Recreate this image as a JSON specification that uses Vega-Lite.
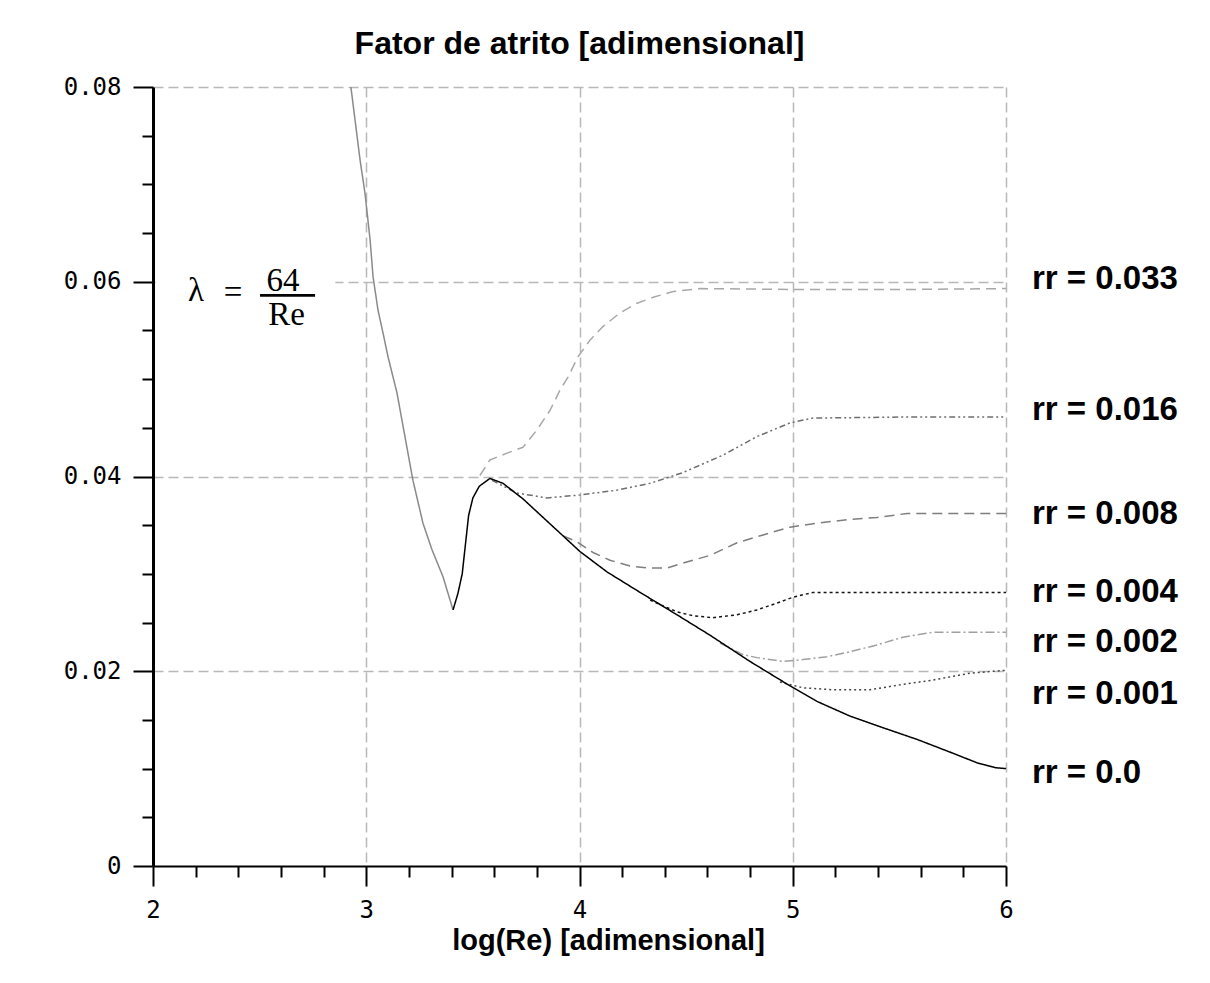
{
  "$schema": "https://vega.github.io/schema/vega-lite/v6.json",
  "width": 853,
  "height": 779,
  "autosize": {"type": "none"},
  "padding": {"left": 153, "top": 87, "right": 204, "bottom": 117},
  "background": "white",
  "title": {"text": "Fator de atrito [adimensional]", "font": "Liberation Sans", "fontSize": 32, "fontWeight": "bold", "color": "black", "anchor": "middle", "frame": "group", "offset": 14},
  "config": {"view": {"stroke": null}},
  "datasets": {
    "curves": [
      {"s":"lam","x":2.928,"y":0.0800},{"s":"lam","x":2.971,"y":0.0725},{"s":"lam","x":2.994,"y":0.0691},{"s":"lam","x":3.018,"y":0.0643},{"s":"lam","x":3.032,"y":0.0605},{"s":"lam","x":3.055,"y":0.0571},{"s":"lam","x":3.079,"y":0.0547},{"s":"lam","x":3.102,"y":0.0523},{"s":"lam","x":3.144,"y":0.0486},{"s":"lam","x":3.219,"y":0.0396},{"s":"lam","x":3.266,"y":0.0352},{"s":"lam","x":3.308,"y":0.0325},{"s":"lam","x":3.360,"y":0.0297},{"s":"lam","x":3.407,"y":0.0263},
      {"s":"0.033","x":3.533,"y":0.0401},{"s":"0.033","x":3.580,"y":0.0417},{"s":"0.033","x":3.660,"y":0.0424},{"s":"0.033","x":3.735,"y":0.0430},{"s":"0.033","x":3.801,"y":0.0448},{"s":"0.033","x":3.862,"y":0.0468},{"s":"0.033","x":3.909,"y":0.0489},{"s":"0.033","x":3.946,"y":0.0502},{"s":"0.033","x":3.993,"y":0.0523},{"s":"0.033","x":4.049,"y":0.0540},{"s":"0.033","x":4.110,"y":0.0554},{"s":"0.033","x":4.190,"y":0.0568},{"s":"0.033","x":4.270,"y":0.0578},{"s":"0.033","x":4.345,"y":0.0584},{"s":"0.033","x":4.439,"y":0.0590},{"s":"0.033","x":4.565,"y":0.0593},{"s":"0.033","x":5.034,"y":0.0592},{"s":"0.033","x":5.503,"y":0.0592},{"s":"0.033","x":6.000,"y":0.0593},
      {"s":"0.016","x":3.590,"y":0.0396},{"s":"0.016","x":3.707,"y":0.0383},{"s":"0.016","x":3.848,"y":0.0378},{"s":"0.016","x":4.002,"y":0.0381},{"s":"0.016","x":4.176,"y":0.0386},{"s":"0.016","x":4.331,"y":0.0393},{"s":"0.016","x":4.485,"y":0.0404},{"s":"0.016","x":4.673,"y":0.0422},{"s":"0.016","x":4.832,"y":0.0441},{"s":"0.016","x":4.987,"y":0.0455},{"s":"0.016","x":5.095,"y":0.0460},{"s":"0.016","x":5.503,"y":0.0461},{"s":"0.016","x":6.000,"y":0.0461},
      {"s":"0.008","x":3.923,"y":0.0339},{"s":"0.008","x":3.988,"y":0.0333},{"s":"0.008","x":4.063,"y":0.0322},{"s":"0.008","x":4.143,"y":0.0314},{"s":"0.008","x":4.237,"y":0.0308},{"s":"0.008","x":4.331,"y":0.0306},{"s":"0.008","x":4.410,"y":0.0306},{"s":"0.008","x":4.485,"y":0.0311},{"s":"0.008","x":4.612,"y":0.0319},{"s":"0.008","x":4.739,"y":0.0332},{"s":"0.008","x":4.861,"y":0.0340},{"s":"0.008","x":4.987,"y":0.0348},{"s":"0.008","x":5.114,"y":0.0352},{"s":"0.008","x":5.268,"y":0.0356},{"s":"0.008","x":5.395,"y":0.0358},{"s":"0.008","x":5.536,"y":0.0362},{"s":"0.008","x":6.000,"y":0.0362},
      {"s":"0.004","x":4.331,"y":0.0273},{"s":"0.004","x":4.457,"y":0.0261},{"s":"0.004","x":4.532,"y":0.0257},{"s":"0.004","x":4.626,"y":0.0255},{"s":"0.004","x":4.739,"y":0.0258},{"s":"0.004","x":4.832,"y":0.0263},{"s":"0.004","x":4.926,"y":0.0270},{"s":"0.004","x":5.001,"y":0.0276},{"s":"0.004","x":5.095,"y":0.0281},{"s":"0.004","x":6.000,"y":0.0281},
      {"s":"0.002","x":4.659,"y":0.0229},{"s":"0.002","x":4.767,"y":0.0217},{"s":"0.002","x":4.832,"y":0.0214},{"s":"0.002","x":4.954,"y":0.0210},{"s":"0.002","x":5.048,"y":0.0212},{"s":"0.002","x":5.161,"y":0.0215},{"s":"0.002","x":5.268,"y":0.0220},{"s":"0.002","x":5.395,"y":0.0227},{"s":"0.002","x":5.517,"y":0.0235},{"s":"0.002","x":5.658,"y":0.0240},{"s":"0.002","x":6.000,"y":0.0240},
      {"s":"0.001","x":4.940,"y":0.0189},{"s":"0.001","x":5.048,"y":0.0183},{"s":"0.001","x":5.189,"y":0.0181},{"s":"0.001","x":5.362,"y":0.0181},{"s":"0.001","x":5.503,"y":0.0186},{"s":"0.001","x":5.658,"y":0.0191},{"s":"0.001","x":5.831,"y":0.0198},{"s":"0.001","x":6.000,"y":0.0201},
      {"s":"0.0","x":3.407,"y":0.0263},{"s":"0.0","x":3.430,"y":0.0280},{"s":"0.0","x":3.450,"y":0.0300},{"s":"0.0","x":3.465,"y":0.0330},{"s":"0.0","x":3.480,"y":0.0360},{"s":"0.0","x":3.500,"y":0.0378},{"s":"0.0","x":3.530,"y":0.0390},{"s":"0.0","x":3.580,"y":0.0398},{"s":"0.0","x":3.641,"y":0.0393},{"s":"0.0","x":3.735,"y":0.0377},{"s":"0.0","x":3.829,"y":0.0358},{"s":"0.0","x":3.923,"y":0.0339},{"s":"0.0","x":4.002,"y":0.0323},{"s":"0.0","x":4.129,"y":0.0302},{"s":"0.0","x":4.284,"y":0.0281},{"s":"0.0","x":4.457,"y":0.0258},{"s":"0.0","x":4.612,"y":0.0237},{"s":"0.0","x":4.800,"y":0.0210},{"s":"0.0","x":4.987,"y":0.0185},{"s":"0.0","x":5.114,"y":0.0169},{"s":"0.0","x":5.268,"y":0.0154},{"s":"0.0","x":5.423,"y":0.0142},{"s":"0.0","x":5.583,"y":0.0130},{"s":"0.0","x":5.737,"y":0.0117},{"s":"0.0","x":5.864,"y":0.0106},{"s":"0.0","x":5.950,"y":0.0101},{"s":"0.0","x":6.000,"y":0.0100}
    ],
    "labels": [
      {"t":"rr = 0.033","x":6,"y":0.0603},
      {"t":"rr = 0.016","x":6,"y":0.0468},
      {"t":"rr = 0.008","x":6,"y":0.0362},
      {"t":"rr = 0.004","x":6,"y":0.0281},
      {"t":"rr = 0.002","x":6,"y":0.0230},
      {"t":"rr = 0.001","x":6,"y":0.0177},
      {"t":"rr = 0.0","x":6,"y":0.0096}
    ],
    "formula": [
      {"t":"λ","x":2.202,"y":0.0591},
      {"t":"=","x":2.376,"y":0.0588},
      {"t":"64","x":2.61,"y":0.0601},
      {"t":"Re","x":2.626,"y":0.0566}
    ],
    "bar": [{"x":2.502,"x2":2.76,"y":0.0586}],
    "mask": [{"x":2.012,"x2":2.855,"y":0.0548,"y2":0.0638}]
  },
  "encoding": {
    "x": {
      "field": "x", "type": "quantitative",
      "scale": {"domain": [2, 6], "nice": false, "zero": false},
      "axis": {
        "values": [2,2.2,2.4,2.6,2.8,3,3.2,3.4,3.6,3.8,4,4.2,4.4,4.6,4.8,5,5.2,5.4,5.6,5.8,6],
        "tickSize": {"condition": {"test": "datum.value % 1 === 0", "value": 20}, "value": 11},
        "tickWidth": 2, "tickColor": "black",
        "domainColor": "black", "domainWidth": 2,
        "grid": true, "gridDash": [10, 5], "gridColor": "#b8b8b8", "gridWidth": 1.5,
        "gridOpacity": {"condition": {"test": "datum.value % 1 === 0 && datum.value > 2", "value": 1}, "value": 0},
        "labelExpr": "datum.value % 1 === 0 ? format(datum.value, 'd') : ''",
        "labelOverlap": false, "labelFlush": false,
        "labelFont": "DejaVu Sans Mono", "labelFontSize": 24, "labelColor": "black", "labelPadding": 12,
        "title": "log(Re) [adimensional]", "titleFont": "Liberation Sans", "titleFontSize": 29, "titleFontWeight": "bold", "titleColor": "black",
        "titleX": 455, "titleAlign": "center", "titlePadding": 4
      }
    },
    "y": {
      "field": "y", "type": "quantitative",
      "scale": {"domain": [0, 0.08], "nice": false, "zero": false},
      "axis": {
        "values": [0,0.005,0.01,0.015,0.02,0.025,0.03,0.035,0.04,0.045,0.05,0.055,0.06,0.065,0.07,0.075,0.08],
        "tickSize": {"condition": {"test": "abs(datum.value*50 - round(datum.value*50)) < 1e-6", "value": 20}, "value": 11},
        "tickWidth": 2, "tickColor": "black",
        "domainColor": "black", "domainWidth": 3,
        "grid": true, "gridDash": [10, 5], "gridColor": "#b8b8b8", "gridWidth": 1.5,
        "gridOpacity": {"condition": {"test": "abs(datum.value*50 - round(datum.value*50)) < 1e-6 && datum.value > 0", "value": 1}, "value": 0},
        "labelExpr": "datum.value === 0 ? '0' : (abs(datum.value*50 - round(datum.value*50)) < 1e-6 ? format(datum.value, '.2f') : '')",
        "labelOverlap": false, "labelFlush": false,
        "labelFont": "DejaVu Sans Mono", "labelFontSize": 24, "labelColor": "black", "labelPadding": 12,
        "title": null
      }
    }
  },
  "layer": [
    {
      "data": {"name": "mask"},
      "mark": {"type": "rect", "color": "white"},
      "encoding": {"x2": {"field": "x2"}, "y2": {"field": "y2"}}
    },
    {
      "data": {"name": "curves"},
      "mark": {"type": "line", "strokeCap": "butt", "strokeJoin": "round", "interpolate": "linear"},
      "encoding": {
        "color": {"field": "s", "type": "nominal", "legend": null,
          "scale": {"domain": ["lam","0.033","0.016","0.008","0.004","0.002","0.001","0.0"],
                    "range": ["#8a8a8a","#a8a8a8","#6e6e6e","#7e7e7e","#151515","#a0a0a0","#454545","#000000"]}},
        "strokeDash": {"field": "s", "type": "nominal", "legend": null,
          "scale": {"domain": ["lam","0.033","0.016","0.008","0.004","0.002","0.001","0.0"],
                    "range": [[1,0],[10,6],[6,3,2,3,2,3],[10,6],[3,3],[9,3,2,3],[2,3],[1,0]]}},
        "strokeWidth": {"field": "s", "type": "nominal", "legend": null,
          "scale": {"domain": ["lam","0.033","0.016","0.008","0.004","0.002","0.001","0.0"],
                    "range": [1.5,1.5,2,1.6,2.5,1.8,2,2.5]}}
      }
    },
    {
      "data": {"name": "labels"},
      "mark": {"type": "text", "align": "left", "baseline": "middle", "dx": 26, "font": "Liberation Sans", "fontSize": 33, "fontWeight": "bold", "color": "black"},
      "encoding": {"text": {"field": "t"}}
    },
    {
      "data": {"name": "formula"},
      "mark": {"type": "text", "align": "center", "baseline": "middle", "font": "Liberation Serif", "fontSize": 33, "color": "black"},
      "encoding": {"text": {"field": "t"}}
    },
    {
      "data": {"name": "bar"},
      "mark": {"type": "rule", "color": "black", "strokeWidth": 2.7},
      "encoding": {"x2": {"field": "x2"}}
    }
  ]
}
